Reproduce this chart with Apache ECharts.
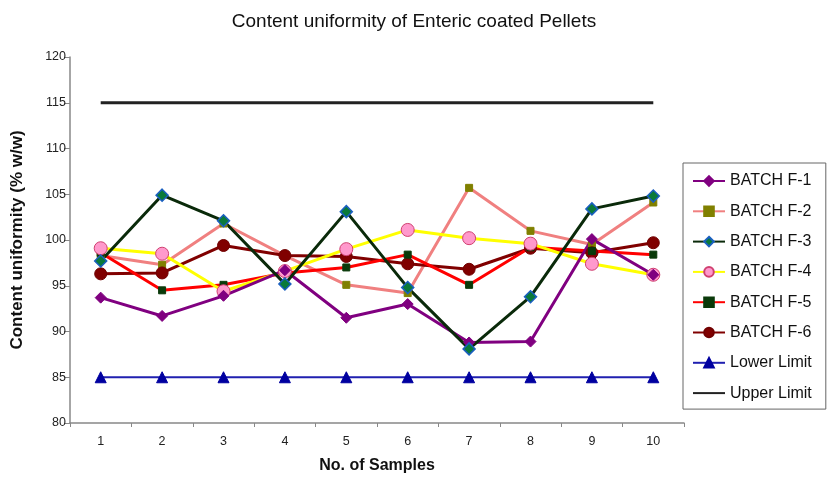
<!DOCTYPE html>
<html>
<head>
<meta charset="utf-8">
<script src="https://cdn.jsdelivr.net/npm/echarts@6/dist/echarts.min.js"></script>
<style>
  html, body { margin: 0; padding: 0; background: #fff; }
  #chart { width: 828px; height: 479px; }
</style>
</head>
<body>
<div id="chart"></div>
<script>
// Sample numbers along the x axis
const samples = ['1', '2', '3', '4', '5', '6', '7', '8', '9', '10'];

// Content uniformity (% w/w) per batch
const batchF1 = [93.7, 91.7, 93.9, 96.7, 91.5, 93.0, 88.8, 88.9, 100.1, 96.2];
const batchF2 = [98.3, 97.3, 101.8, 98.3, 95.1, 94.2, 105.7, 101.0, 99.5, 104.1];
const batchF3 = [97.7, 104.9, 102.1, 95.2, 103.1, 94.8, 88.1, 93.8, 103.4, 104.8];
const batchF4 = [99.1, 98.5, 94.4, 96.6, 99.0, 101.1, 100.2, 99.6, 97.4, 96.2];
const batchF5 = [98.6, 94.5, 95.1, 96.4, 97.0, 98.4, 95.1, 99.2, 98.8, 98.4];
const batchF6 = [96.3, 96.4, 99.4, 98.3, 98.2, 97.4, 96.8, 99.1, 98.6, 99.7];

// Specification limits
const lowerLimit = [85, 85, 85, 85, 85, 85, 85, 85, 85, 85];
const upperLimit = [115, 115, 115, 115, 115, 115, 115, 115, 115, 115];

const FONT = 'Liberation Sans, Arial, sans-serif';

function lineSeries(name, data, lineColor, symbol, size, fill, border, width, borderWidth) {
  return {
    name: name,
    type: 'line',
    data: data,
    symbol: symbol,
    symbolSize: size,
    showSymbol: symbol !== 'none',
    lineStyle: { color: lineColor, width: width || 3 },
    itemStyle: { color: fill, borderColor: border || fill, borderWidth: borderWidth || 1 },
    emphasis: { disabled: true },
    animation: false
  };
}

const chart = echarts.init(document.getElementById('chart'), null, { renderer: 'canvas' });
chart.setOption({
  backgroundColor: '#ffffff',
  textStyle: { fontFamily: FONT },
  title: {
    text: 'Content uniformity of Enteric coated Pellets',
    left: 'center',
    top: 7,
    textStyle: { fontFamily: FONT, fontSize: 19, fontWeight: 'normal', color: '#111' }
  },
  grid: { left: 70, right: 144, top: 57, bottom: 53 },
  legend: {
    orient: 'vertical',
    left: 683,
    top: 163,
    width: 143,
    padding: [10, 14, 8, 9],
    itemGap: 14.3,
    itemWidth: 32,
    itemHeight: 12,
    borderColor: '#666',
    borderWidth: 1,
    textStyle: { fontFamily: FONT, fontSize: 16, lineHeight: 16, color: '#111' },
    data: [
      'BATCH F-1', 'BATCH F-2', 'BATCH F-3', 'BATCH F-4', 'BATCH F-5', 'BATCH F-6', 'Lower Limit',
      { name: 'Upper Limit', itemStyle: { opacity: 0 } }
    ]
  },
  xAxis: {
    type: 'category',
    data: samples,
    boundaryGap: true,
    name: 'No. of Samples',
    nameLocation: 'middle',
    nameGap: 35,
    nameTextStyle: { fontFamily: FONT, fontSize: 16, fontWeight: 'bold', color: '#111' },
    axisLine: { lineStyle: { color: '#888', width: 1.5 } },
    axisTick: { show: true, length: 4, alignWithLabel: false, lineStyle: { color: '#888' } },
    axisLabel: { fontFamily: FONT, fontSize: 12.5, color: '#222', margin: 12 },
    splitLine: { show: false }
  },
  yAxis: {
    type: 'value',
    min: 80,
    max: 120,
    interval: 5,
    name: 'Content uniformity (% w/w)',
    nameLocation: 'middle',
    nameRotate: 90,
    nameGap: 44,
    nameTextStyle: { fontFamily: FONT, fontSize: 17, fontWeight: 'bold', color: '#111' },
    axisLine: { show: true, lineStyle: { color: '#888', width: 1.5 } },
    axisTick: { show: true, length: 6, lineStyle: { color: '#888' } },
    axisLabel: { fontFamily: FONT, fontSize: 12.5, color: '#222', margin: 4 },
    splitLine: { show: false }
  },
  series: [
    lineSeries('Upper Limit', upperLimit, '#222222', 'none', 0, '#222222', null, 3),
    lineSeries('Lower Limit', lowerLimit, '#2020b0', 'triangle', 11, '#0000a0', '#0000a0', 2),
    lineSeries('BATCH F-2', batchF2, '#f08080', 'rect', 7, '#808000', '#808000', 3),
    lineSeries('BATCH F-6', batchF6, '#800000', 'circle', 12, '#800000', '#700000', 3),
    lineSeries('BATCH F-5', batchF5, '#ff0000', 'rect', 7, '#0a3a0a', '#0a3a0a', 3),
    lineSeries('BATCH F-4', batchF4, '#ffff00', 'circle', 13, '#ff99cc', '#d04070', 3),
    lineSeries('BATCH F-1', batchF1, '#800080', 'diamond', 11, '#800080', '#800080', 3),
    lineSeries('BATCH F-3', batchF3, '#0a2a0a', 'diamond', 12, '#0a7a3a', '#1a5fc0', 3, 1.5)
  ]
});
</script>
</body>
</html>
